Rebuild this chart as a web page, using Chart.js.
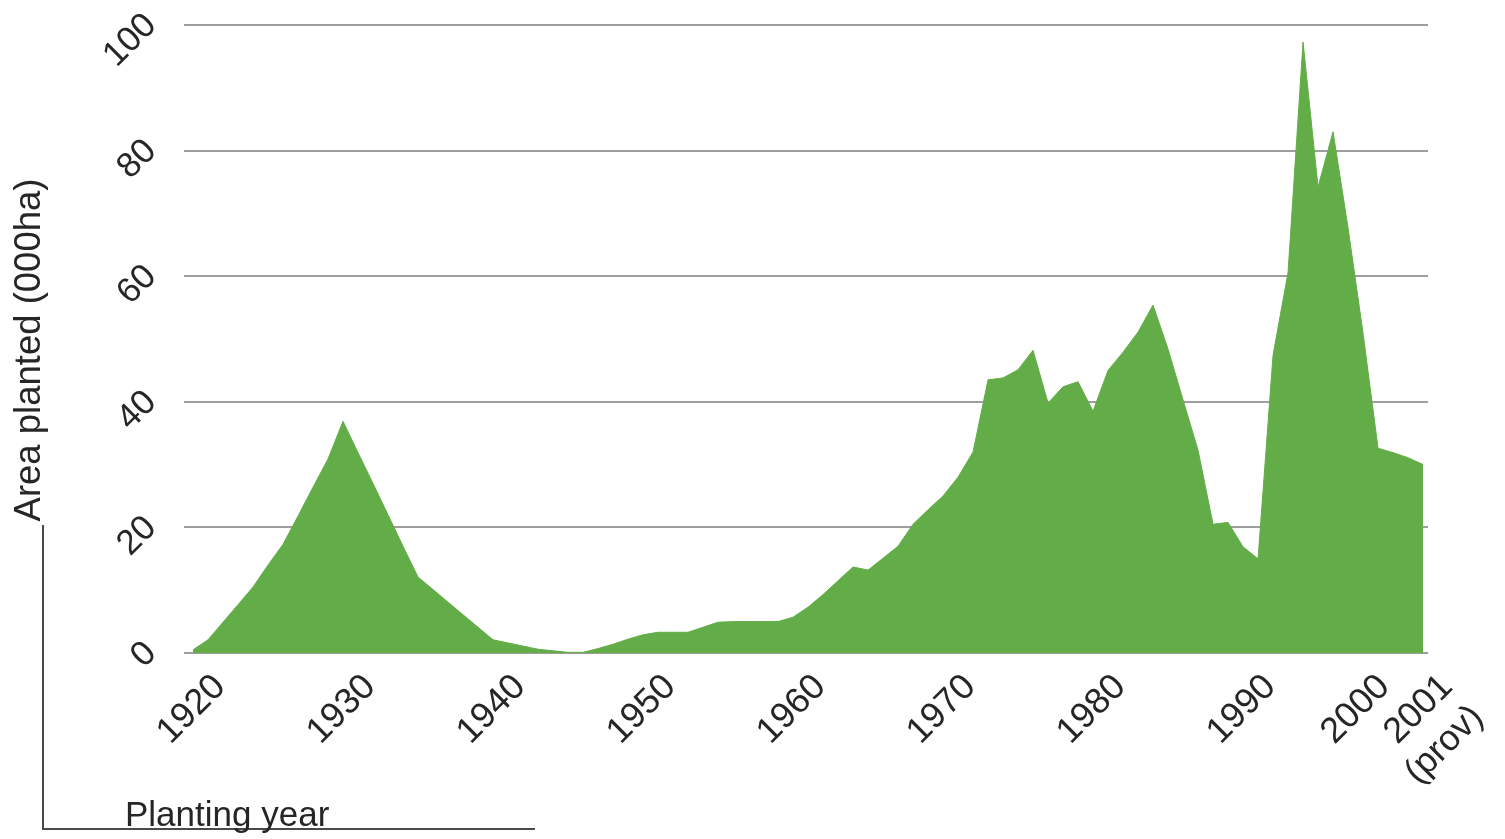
<!DOCTYPE html>
<html>
<head>
<meta charset="utf-8">
<script src="https://cdn.jsdelivr.net/npm/chart.js@4.4.1/dist/chart.umd.min.js"></script>
<style>
  html, body { margin: 0; padding: 0; background: #ffffff; }
  #wrap { width: 1505px; height: 839px; position: relative; }
</style>
</head>
<body>
<div id="wrap"><canvas id="chart"></canvas></div>
<script>
// ---- Data ----
const years = [
  1919, 1920, 1921, 1922, 1923, 1924, 1925, 1926, 1927, 1928, 1929,
  1930, 1931, 1932, 1933, 1934, 1935, 1936, 1937, 1938, 1939,
  1940, 1941, 1942, 1943, 1944, 1945, 1946, 1947, 1948, 1949,
  1950, 1951, 1952, 1953, 1954, 1955, 1956, 1957, 1958, 1959,
  1960, 1961, 1962, 1963, 1964, 1965, 1966, 1967, 1968, 1969,
  1970, 1971, 1972, 1973, 1974, 1975, 1976, 1977, 1978, 1979,
  1980, 1981, 1982, 1983, 1984, 1985, 1986, 1987, 1988, 1989,
  1990, 1991, 1992, 1993, 1994, 1995, 1996, 1997, 1998, 1999,
  2000, 2001
];
const areaPlanted = [
  0.5, 2.1, 4.9, 7.7, 10.5, 14.0, 17.3, 21.8, 26.4, 30.9, 36.9,
  31.9, 27.0, 22.0, 17.0, 12.1, 10.1, 8.1, 6.1, 4.1, 2.1,
  1.6, 1.1, 0.6, 0.35, 0.1, 0.1, 0.7, 1.4, 2.2, 2.9,
  3.3, 3.3, 3.3, 4.1, 4.9, 5.0, 5.0, 5.0, 5.0, 5.7,
  7.3, 9.3, 11.5, 13.7, 13.2, 15.1, 17.0, 20.5, 22.8, 25.0,
  28.0, 32.0, 43.5, 43.8, 45.1, 48.2, 39.8, 42.4, 43.2, 38.5,
  45.0, 47.9, 51.1, 55.4, 48.4, 40.3, 32.3, 20.5, 20.8, 16.9,
  15.0, 47.4, 60.6, 97.3, 74.2, 83.0, 67.7, 50.9, 32.6, 31.9,
  31.1, 30.0
];
const yTickValues = [0, 20, 40, 60, 80, 100];
const xTickYears = [1920, 1930, 1940, 1950, 1960, 1970, 1980, 1990, 2000, 2001];
const xTickLabels = ['1920', '1930', '1940', '1950', '1960', '1970', '1980', '1990', '2000', ['2001', '(prov)']];
const yAxisTitle = 'Area planted (000ha)';
const xAxisTitle = 'Planting year';

// ---- Styling / layout ----
const FONT = '"Liberation Sans", Arial, sans-serif';
const TEXT = '#262626';
const GREEN = 'rgb(98,173,72)';
// the source chart pushes the "2000" and "2001 (prov)" labels apart so they do not collide
const labelNudge = { 2000: -2.4, 2001: 0.8 };

const points = years.map((y, i) => ({ x: y, y: areaPlanted[i] }));

const decor = {
  id: 'decor',
  afterDraw(chart) {
    const ctx = chart.ctx;
    ctx.save();
    // bracket lines at the lower left
    ctx.strokeStyle = '#4a4a4a';
    ctx.lineWidth = 2;
    ctx.beginPath();
    ctx.moveTo(43, 525);
    ctx.lineTo(43, 829);
    ctx.lineTo(535, 829);
    ctx.stroke();
    // x axis title
    ctx.fillStyle = TEXT;
    ctx.font = '35px ' + FONT;
    ctx.textBaseline = 'alphabetic';
    ctx.textAlign = 'left';
    ctx.fillText(xAxisTitle, 125, 826);
    // y axis title
    ctx.translate(30, 350);
    ctx.rotate(-Math.PI / 2);
    ctx.textAlign = 'center';
    ctx.textBaseline = 'middle';
    ctx.font = '36.5px ' + FONT;
    ctx.fillText(yAxisTitle, 0, 0);
    ctx.restore();
  }
};

new Chart(document.getElementById('chart'), {
  type: 'line',
  data: {
    datasets: [{
      data: points,
      borderColor: GREEN,
      backgroundColor: GREEN,
      borderWidth: 1,
      fill: 'origin',
      pointRadius: 0,
      tension: 0
    }]
  },
  options: {
    responsive: true,
    maintainAspectRatio: false,
    animation: false,
    layout: { padding: { top: 25, right: 77, left: 0, bottom: 0 } },
    plugins: { legend: { display: false }, tooltip: { enabled: false } },
    scales: {
      x: {
        type: 'linear',
        min: 1918.4,
        max: 2001.33,
        grid: { display: false, drawTicks: false },
        border: { display: false },
        ticks: {
          autoSkip: false,
          minRotation: 45,
          maxRotation: 45,
          padding: 13,
          labelOffset: 12,
          color: TEXT,
          font: { family: FONT, size: 36 },
          callback: (v, i) => xTickLabels[i]
        },
        afterBuildTicks: (s) => {
          s.ticks = xTickYears.map(y => ({ value: y + (labelNudge[y] || 0) }));
        },
        afterFit: (s) => {
          s.height = 186;
          s.paddingLeft = 0; s.paddingRight = 0; s.paddingTop = 0; s.paddingBottom = 0;
        }
      },
      y: {
        min: 0,
        max: 100,
        grid: { color: '#9e9e9e', lineWidth: 2, drawTicks: false },
        border: { display: false },
        ticks: {
          minRotation: 45,
          maxRotation: 45,
          padding: 33,
          labelOffset: -5,
          color: TEXT,
          font: { family: FONT, size: 35 }
        },
        afterBuildTicks: (s) => {
          s.ticks = yTickValues.map(v => ({ value: v }));
        },
        title: { display: false },
        afterFit: (s) => {
          s.width = 184;
          s.paddingLeft = 0; s.paddingRight = 0; s.paddingTop = 0; s.paddingBottom = 0;
        }
      }
    }
  },
  plugins: [decor]
});
</script>
</body>
</html>
